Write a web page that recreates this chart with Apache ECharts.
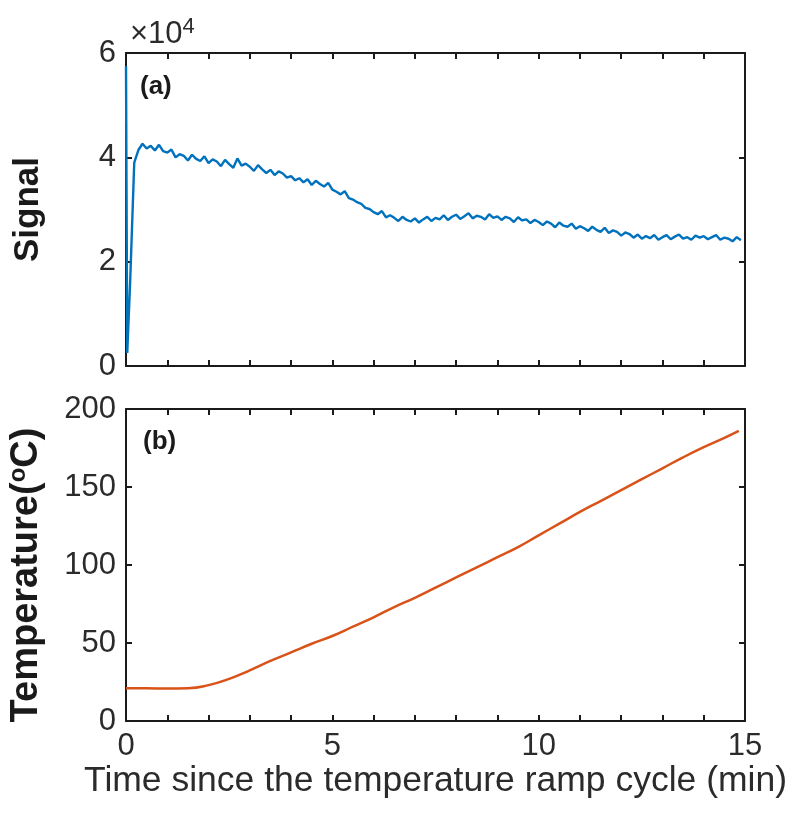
<!DOCTYPE html>
<html>
<head>
<meta charset="utf-8">
<title>Signal and temperature</title>
<script src="https://cdn.jsdelivr.net/npm/echarts@6/dist/echarts.min.js"></script>
<style>
  html, body { margin: 0; padding: 0; background: #fff; }
  #main { width: 796px; height: 822px; }
</style>
</head>
<body>
<div id="main"></div>
<script>
  // x ticks (min) and labelled ones
  var timeTicks = [0, 5, 10, 15]
  var signalTicks = [0, 2, 4, 6]        // x10^4
  var tempTicks = [0, 50, 100, 150, 200]

  // signal (x10^4), the first samples: spike, drop and fast rise
  var signalStartTime = [0, 0.03, 0.1, 0.2]
  var signalStart = [5.75, 0.25, 1.6, 3.9]

  // signal (x10^4), one sample every 0.1 min from 0.3 min
  var signalDt = 0.1
  var signalT0 = 0.3
  var signalValues = [
    4.14, 4.26, 4.17, 4.22, 4.13, 4.24, 4.12,
    4.09, 4.15, 4.00, 4.06, 4.03, 3.94, 4.05, 3.97, 3.93, 4.02,
    3.89, 3.96, 3.92, 3.83, 3.95, 3.87, 3.80, 3.98, 3.84, 3.88,
    3.82, 3.74, 3.85, 3.77, 3.70, 3.76, 3.66, 3.73, 3.69, 3.61,
    3.64, 3.56, 3.60, 3.52, 3.58, 3.47, 3.55, 3.49, 3.44, 3.51,
    3.38, 3.34, 3.29, 3.35, 3.22, 3.19, 3.14, 3.11, 3.03, 3.01,
    2.95, 2.91, 2.97, 2.85, 2.89, 2.84, 2.78, 2.86, 2.80, 2.77,
    2.83, 2.75, 2.81, 2.86, 2.78, 2.84, 2.81, 2.89, 2.80, 2.86,
    2.90, 2.82, 2.87, 2.93, 2.83, 2.88, 2.86, 2.81, 2.91, 2.84,
    2.87, 2.80, 2.86, 2.83, 2.76, 2.85, 2.79, 2.81, 2.74, 2.80,
    2.76, 2.70, 2.77, 2.73, 2.66, 2.75, 2.69, 2.67, 2.73, 2.63,
    2.68, 2.64, 2.59, 2.67, 2.61, 2.57, 2.65, 2.55, 2.60, 2.57,
    2.50, 2.56, 2.53, 2.46, 2.52, 2.44, 2.49, 2.45, 2.51, 2.42,
    2.47, 2.51, 2.43, 2.48, 2.52, 2.44, 2.47, 2.42, 2.50, 2.46,
    2.49, 2.43, 2.47, 2.51, 2.42, 2.46, 2.44, 2.39, 2.47, 2.41
  ]

  // temperature (oC)
  var tempTime = [0, 0.5, 1, 1.5, 2, 2.5, 3, 3.5, 4, 4.5, 5, 5.5, 6, 6.5, 7, 7.5,
    8, 8.5, 9, 9.5, 10, 10.5, 11, 11.5, 12, 12.5, 13, 13.5, 14, 14.5, 14.85]
  var tempValues = [21, 21, 20.8, 21, 23, 27, 32.5, 38.5, 44, 49.5, 54.5, 60.5, 66.5, 73, 79, 85.5,
    92, 98.5, 105, 111.5, 119, 126.5, 134, 141, 148, 155, 162, 169, 175.5, 181.5, 186]

  var signalData = []
  for (var i = 0; i < signalStart.length; i++) {
    signalData.push([signalStartTime[i], signalStart[i]])
  }
  for (var j = 0; j < signalValues.length; j++) {
    signalData.push([+(signalT0 + j * signalDt).toFixed(2), signalValues[j]])
  }
  var tempData = tempTime.map(function (t, k) { return [t, tempValues[k]] })

  var FONT = '"Liberation Sans", Arial, sans-serif'
  var BLACK = '#1a1a1a'
  var GREY = '#2b2b2b'

  var line = { show: true, onZero: false, lineStyle: { color: BLACK, width: 2 } }
  var tick = { show: true, inside: true, length: 6, lineStyle: { color: BLACK, width: 2 } }
  var label = { show: true, color: GREY, fontFamily: FONT, fontSize: 31 }

  function xAxis (grid, pos, showLabel) {
    return {
      type: 'value', gridIndex: grid, position: pos,
      min: 0, max: 15, interval: 1,
      axisLine: line, axisTick: tick, splitLine: { show: false },
      axisLabel: showLabel ? Object.assign({}, label, {
        margin: 10,
        formatter: function (v) { return timeTicks.indexOf(v) >= 0 ? String(v) : '' }
      }) : { show: false }
    }
  }

  function yAxis (grid, pos, ticks, showLabel) {
    return {
      type: 'value', gridIndex: grid, position: pos,
      min: ticks[0], max: ticks[ticks.length - 1], interval: ticks[1] - ticks[0],
      axisLine: line, axisTick: tick, splitLine: { show: false },
      axisLabel: showLabel ? Object.assign({}, label, { margin: 10 }) : { show: false }
    }
  }

  var chart = echarts.init(document.getElementById('main'))

  var xs = [xAxis(0, 'bottom', false), xAxis(0, 'top', false), xAxis(1, 'bottom', true), xAxis(1, 'top', false)]
  xs[2].name = 'Time since the temperature ramp cycle (min)'
  xs[2].nameLocation = 'middle'
  xs[2].nameGap = 35
  xs[2].nameTextStyle = { color: GREY, fontFamily: FONT, fontSize: 35.5 }

  var ys = [yAxis(0, 'left', signalTicks, true), yAxis(0, 'right', signalTicks, false),
    yAxis(1, 'left', tempTicks, true), yAxis(1, 'right', tempTicks, false)]
  ys[0].name = 'Signal'
  ys[0].nameLocation = 'middle'
  ys[0].nameRotate = 90
  ys[0].nameGap = 80
  ys[0].nameTextStyle = { color: BLACK, fontFamily: FONT, fontSize: 35, fontWeight: 'bold' }

  // the label sits a bit below the middle of the axis: right padding shifts it down
  ys[2].name = '{b|Temperature(}{s|o}{b|C)}'
  ys[2].nameLocation = 'middle'
  ys[2].nameRotate = 90
  ys[2].nameGap = 78
  ys[2].nameTextStyle = {
    padding: [0, 20, 0, 0],
    rich: {
      b: { color: BLACK, fontFamily: FONT, fontSize: 38, fontWeight: 'bold', lineHeight: 42 },
      s: { color: BLACK, fontFamily: FONT, fontSize: 24, fontWeight: 'bold', lineHeight: 24, verticalAlign: 'top' }
    }
  }

  chart.setOption({
    backgroundColor: '#fff',
    animation: false,
    grid: [
      { left: 126, width: 619, top: 53, height: 313, outerBoundsMode: 'none' },
      { left: 126, width: 619, top: 409, height: 312, outerBoundsMode: 'none' }
    ],
    xAxis: xs,
    yAxis: ys,
    graphic: [
      {
        type: 'text', left: 130, top: 16,
        style: {
          text: '{a|×10}{p|4}',
          rich: {
            a: { fill: GREY, fontFamily: FONT, fontSize: 31, lineHeight: 36 },
            p: { fill: GREY, fontFamily: FONT, fontSize: 22, lineHeight: 22, verticalAlign: 'top' }
          }
        }
      },
      { type: 'text', left: 140, top: 74, style: { text: '(a)', fill: BLACK, font: 'bold 26px ' + FONT } },
      { type: 'text', left: 143, top: 429, style: { text: '(b)', fill: BLACK, font: 'bold 26px ' + FONT } }
    ],
    series: [
      {
        name: 'Signal', type: 'line', xAxisIndex: 0, yAxisIndex: 0,
        data: signalData, showSymbol: false, smooth: false,
        lineStyle: { color: '#0072BD', width: 2.4 }
      },
      {
        name: 'Temperature', type: 'line', xAxisIndex: 2, yAxisIndex: 2,
        data: tempData, showSymbol: false, smooth: true,
        lineStyle: { color: '#D95319', width: 2.5 }
      }
    ]
  })
</script>
</body>
</html>
